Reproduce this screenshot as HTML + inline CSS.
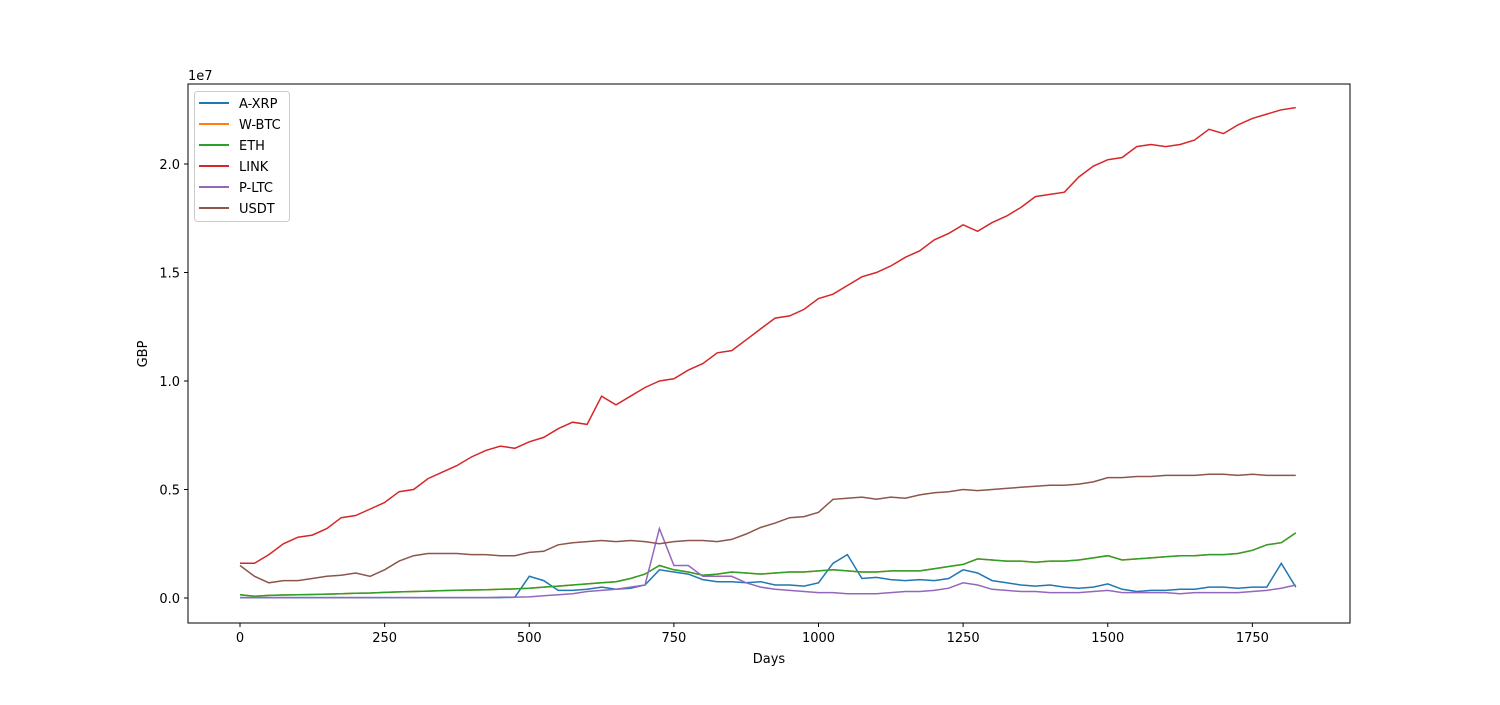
<!DOCTYPE html>
<html><head><meta charset="utf-8"><style>
body{margin:0;background:#fff;}
svg text{font-family:"DejaVu Sans","Liberation Sans",sans-serif;font-size:13px;fill:#000;}
</style></head><body>
<svg id="chart" width="1500" height="700" xmlns="http://www.w3.org/2000/svg">
<rect x="0" y="0" width="1500" height="700" fill="#fff"/>
<g id="lines"></g>
<rect x="188" y="84" width="1162" height="539" fill="none" stroke="#000" stroke-width="1"/>
<g id="xt"></g>
<g id="yt"></g>
<text x="188" y="80">1e7</text>
<text x="769" y="663" text-anchor="middle">Days</text>
<text x="147" y="354" text-anchor="middle" transform="rotate(-90 147 354)">GBP</text>
<g id="legend">
<rect x="194.5" y="91.5" width="95" height="130" rx="3" fill="#fff" fill-opacity="0.8" stroke="#ccc"/>
</g>
</svg>
<script>
const days=[];for(let d=0;d<=1825;d+=25)days.push(d);
const seriesNames=["A-XRP","W-BTC","ETH","LINK","P-LTC","USDT"];
const colors=["#1f77b4","#ff7f0e","#2ca02c","#d62728","#9467bd","#8c564b"];
const xrp=[0.02,0.02,0.02,0.02,0.02,0.02,0.02,0.02,0.02,0.02,0.02,0.02,0.02,0.02,0.02,0.02,0.02,0.02,0.02,0.03,1.0,0.8,0.35,0.35,0.4,0.5,0.4,0.45,0.6,1.3,1.2,1.1,0.85,0.75,0.75,0.7,0.75,0.6,0.6,0.55,0.7,1.6,2.0,0.9,0.95,0.85,0.8,0.85,0.8,0.9,1.3,1.15,0.8,0.7,0.6,0.55,0.6,0.5,0.45,0.5,0.65,0.4,0.3,0.35,0.35,0.4,0.4,0.5,0.5,0.45,0.5,0.5,1.6,0.5];
const eth=[0.15,0.08,0.12,0.14,0.15,0.16,0.18,0.2,0.22,0.23,0.26,0.28,0.3,0.32,0.34,0.36,0.37,0.38,0.4,0.42,0.45,0.5,0.55,0.6,0.65,0.7,0.75,0.9,1.1,1.5,1.3,1.2,1.05,1.1,1.2,1.15,1.1,1.15,1.2,1.2,1.25,1.3,1.25,1.2,1.2,1.25,1.25,1.25,1.35,1.45,1.55,1.8,1.75,1.7,1.7,1.65,1.7,1.7,1.75,1.85,1.95,1.75,1.8,1.85,1.9,1.95,1.95,2.0,2.0,2.05,2.2,2.45,2.55,3.0];
const wbtc=eth.slice();
const link=[1.6,1.6,2.0,2.5,2.8,2.9,3.2,3.7,3.8,4.1,4.4,4.9,5.0,5.5,5.8,6.1,6.5,6.8,7.0,6.9,7.2,7.4,7.8,8.1,8.0,9.3,8.9,9.3,9.7,10.0,10.1,10.5,10.8,11.3,11.4,11.9,12.4,12.9,13.0,13.3,13.8,14.0,14.4,14.8,15.0,15.3,15.7,16.0,16.5,16.8,17.2,16.9,17.3,17.6,18.0,18.5,18.6,18.7,19.4,19.9,20.2,20.3,20.8,20.9,20.8,20.9,21.1,21.6,21.4,21.8,22.1,22.3,22.5,22.6];
const ltc=[0.02,0.02,0.02,0.02,0.02,0.02,0.02,0.02,0.02,0.02,0.02,0.02,0.02,0.02,0.02,0.02,0.02,0.02,0.03,0.04,0.05,0.1,0.15,0.2,0.3,0.35,0.4,0.5,0.6,3.2,1.5,1.5,1.0,1.0,1.0,0.7,0.5,0.4,0.35,0.3,0.25,0.25,0.2,0.2,0.2,0.25,0.3,0.3,0.35,0.45,0.7,0.6,0.4,0.35,0.3,0.3,0.25,0.25,0.25,0.3,0.35,0.25,0.25,0.25,0.25,0.2,0.25,0.25,0.25,0.25,0.3,0.35,0.45,0.6];
const usdt=[1.5,1.0,0.7,0.8,0.8,0.9,1.0,1.05,1.15,1.0,1.3,1.7,1.95,2.05,2.05,2.05,2.0,2.0,1.95,1.95,2.1,2.15,2.45,2.55,2.6,2.65,2.6,2.65,2.6,2.5,2.6,2.65,2.65,2.6,2.7,2.95,3.25,3.45,3.7,3.75,3.95,4.55,4.6,4.65,4.55,4.65,4.6,4.75,4.85,4.9,5.0,4.95,5.0,5.05,5.1,5.15,5.2,5.2,5.25,5.35,5.55,5.55,5.6,5.6,5.65,5.65,5.65,5.7,5.7,5.65,5.7,5.65,5.65,5.65];
const xTicks=[0,250,500,750,1000,1250,1500,1750];
const yTicks=[0,0.5,1.0,1.5,2.0];
const yTickLabels=["0.0","0.5","1.0","1.5","2.0"];
const NS="http://www.w3.org/2000/svg";
const X=d=>240+d*0.5785;
const Y=v=>598-v*21.7; // v in millions
const lines=document.getElementById('lines');
const all=[xrp,wbtc,eth,link,ltc,usdt];
all.forEach((s,k)=>{
  const p=document.createElementNS(NS,'polyline');
  p.setAttribute('points',s.map((v,i)=>X(days[i]).toFixed(1)+','+Y(v).toFixed(1)).join(' '));
  p.setAttribute('fill','none');p.setAttribute('stroke',colors[k]);p.setAttribute('stroke-width','1.5');
  
  
  lines.appendChild(p);
});
const xt=document.getElementById('xt');
xTicks.forEach(t=>{
  const l=document.createElementNS(NS,'line');
  l.setAttribute('x1',X(t));l.setAttribute('x2',X(t));l.setAttribute('y1',623);l.setAttribute('y2',627);l.setAttribute('stroke','#000');
  
  
  xt.appendChild(l);
  const tx=document.createElementNS(NS,'text');
  tx.setAttribute('x',X(t));tx.setAttribute('y',642);tx.setAttribute('text-anchor','middle');tx.textContent=t;
  
  
  xt.appendChild(tx);
});
const yt=document.getElementById('yt');
yTicks.forEach((t,i)=>{
  const y=Y(t*10);
  const l=document.createElementNS(NS,'line');
  l.setAttribute('x1',184);l.setAttribute('x2',188);l.setAttribute('y1',y);l.setAttribute('y2',y);l.setAttribute('stroke','#000');
  
  
  yt.appendChild(l);
  const tx=document.createElementNS(NS,'text');
  tx.setAttribute('x',180);tx.setAttribute('y',y+5);tx.setAttribute('text-anchor','end');tx.textContent=yTickLabels[i];
  
  
  yt.appendChild(tx);
});
const lg=document.getElementById('legend');
seriesNames.forEach((n,k)=>{
  const y=103+k*21;
  const l=document.createElementNS(NS,'line');
  l.setAttribute('x1',199);l.setAttribute('x2',229);l.setAttribute('y1',y);l.setAttribute('y2',y);l.setAttribute('stroke',colors[k]);l.setAttribute('stroke-width','2');
  
  
  lg.appendChild(l);
  const tx=document.createElementNS(NS,'text');
  tx.setAttribute('x',239);tx.setAttribute('y',y+5);tx.textContent=n;
  
  
  lg.appendChild(tx);
});
</script>
</body></html>
